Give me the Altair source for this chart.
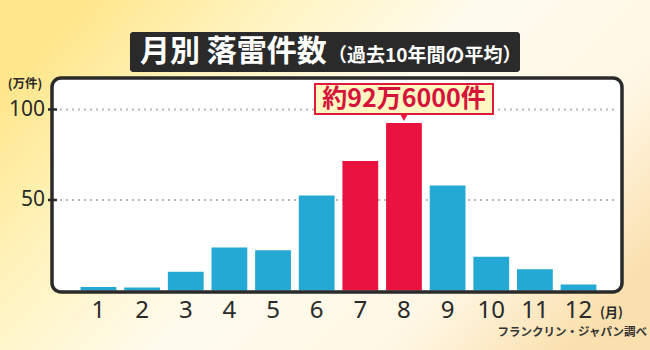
import altair as alt
import pandas as pd

# ---------------- data ----------------
months = [1, 2, 3, 4, 5, 6, 7, 8, 9, 10, 11, 12]
counts = [2.0, 1.7, 10.3, 23.7, 22.2, 52.5, 71.5, 92.6, 58.0, 18.6, 11.7, 3.3]
highlight = [False, False, False, False, False, False, True, True, False, False, False, False]
month_labels = ["1", "2", "3", "4", "5", "6", "7", "8", "9", "10", "11", "12"]
y_ticks = [50, 100]
y_tick_labels = ["50", "100"]
title_main = "月別 落雷件数"
title_sub = "（過去10年間の平均）"
unit_y = "(万件)"
unit_x = "(月)"
source_note = "フランクリン・ジャパン調べ"
peak_label = "約92万6000件"
peak_month = [8]

FONT = "Noto Sans CJK JP, Noto Sans, Roboto, sans-serif"
NUMFONT = "Noto Sans, Roboto, sans-serif"
BLUE = "#24A9D5"
RED = "#EA1340"
DARK = "#2a2a2a"

df_bars = pd.DataFrame({
    "month": months,
    "count": counts,
    "group": ["peak" if h else "normal" for h in highlight],
    "label": month_labels,
})
df_yt = pd.DataFrame({"v": y_ticks, "t": y_tick_labels})
one = pd.DataFrame({"a": [0]})

x_scale = alt.Scale(domain=months, range=[53.5, 623.5], paddingInner=0.18, paddingOuter=0.62)
y_scale = alt.Scale(domain=[0, 100], range=[290.5, 109.5], nice=False, zero=False)

X = alt.X("month:O", scale=x_scale, axis=None)

bg = alt.Chart(one).mark_rect(
    fill={
        "gradient": "linear",
        "x1": 0, "y1": 0.25, "x2": 1, "y2": 0.75,
        "stops": [
            {"offset": 0.0, "color": "#FFE68A"},
            {"offset": 0.22, "color": "#FFF3BC"},
            {"offset": 0.5, "color": "#FFFBEE"},
            {"offset": 0.78, "color": "#FFF7E4"},
            {"offset": 1.0, "color": "#FAE0AE"},
        ],
    }
).encode(x=alt.value(0), x2=alt.value(650), y=alt.value(0), y2=alt.value(350))

title_box = alt.Chart(one).mark_rect(fill=DARK, cornerRadius=3).encode(
    x=alt.value(130), x2=alt.value(520), y=alt.value(32), y2=alt.value(72)
)
title_txt = alt.Chart(one).mark_text(
    text=title_main, font=FONT, fontSize=30, fontWeight="bold", color="white",
    align="left", baseline="middle"
).encode(x=alt.value(140), y=alt.value(52))
sub_txt = alt.Chart(one).mark_text(
    text=title_sub, font=FONT, fontSize=19, fontWeight="bold", color="white",
    align="left", baseline="middle"
).encode(x=alt.value(328), y=alt.value(56))

panel = alt.Chart(one).mark_rect(fill="white", cornerRadius=9).encode(
    x=alt.value(52), x2=alt.value(622), y=alt.value(78), y2=alt.value(292)
)

grid = alt.Chart(df_yt).mark_rule(color="#b8b8b8", strokeWidth=2, strokeDash=[2, 4]).encode(
    y=alt.Y("v:Q", scale=y_scale, axis=None), x=alt.value(60), x2=alt.value(618)
)

bars = alt.Chart(df_bars).mark_bar().encode(
    x=X,
    y=alt.Y("count:Q", scale=y_scale, axis=None),
    color=alt.Color("group:N", scale=alt.Scale(domain=["normal", "peak"], range=[BLUE, RED]), legend=None),
)

panel_line = alt.Chart(one).mark_rect(
    fillOpacity=0, stroke=DARK, strokeWidth=3.5, cornerRadius=9
).encode(x=alt.value(52), x2=alt.value(622), y=alt.value(78), y2=alt.value(292))

ytick = alt.Chart(df_yt).mark_rule(color=DARK, strokeWidth=2.5).encode(
    y=alt.Y("v:Q", scale=y_scale, axis=None), x=alt.value(48), x2=alt.value(57)
)
ylab = alt.Chart(df_yt).mark_text(
    font=NUMFONT, fontSize=21, color=DARK, align="right", baseline="middle"
).encode(y=alt.Y("v:Q", scale=y_scale, axis=None), x=alt.value(45), text="t:N")

yunit = alt.Chart(one).mark_text(
    text=unit_y, font=FONT, fontSize=12.5, fontWeight="bold", color=DARK,
    align="center", baseline="middle"
).encode(x=alt.value(25), y=alt.value(84))

xlab = alt.Chart(df_bars).mark_text(
    font=NUMFONT, fontSize=24, color=DARK, align="center", baseline="middle"
).encode(x=X, y=alt.value(311), text="label:N")

xunit = alt.Chart(one).mark_text(
    text=unit_x, font=FONT, fontSize=13, fontWeight="bold", color=DARK,
    align="left", baseline="middle"
).encode(x=alt.value(600), y=alt.value(313))

src = alt.Chart(one).mark_text(
    text=source_note, font=FONT, fontSize=11.5, fontWeight="bold", color="#333333",
    align="right", baseline="middle"
).encode(x=alt.value(647), y=alt.value(333))

ann_box = alt.Chart(one).mark_rect(
    fill="#FFF6C2", stroke="#DD1C3C", strokeWidth=2
).encode(x=alt.value(315), x2=alt.value(493), y=alt.value(84), y2=alt.value(114))

ann_txt = alt.Chart(one).mark_text(
    text=peak_label, font=FONT, fontSize=25, fontWeight="bold", color="#D6133A",
    align="center", baseline="middle"
).encode(x=alt.value(404), y=alt.value(99))

tri = alt.Chart(pd.DataFrame({"month": peak_month})).mark_point(
    shape="triangle-down", filled=True, size=45, color=RED, opacity=1
).encode(x=X, y=alt.value(118))

chart = alt.layer(
    bg, title_box, title_txt, sub_txt, panel, grid, bars, panel_line,
    ytick, ylab, yunit, xlab, xunit, src, ann_box, ann_txt, tri
).properties(
    width=650, height=350, autosize=alt.AutoSizeParams(type="none"), padding=0
).configure_view(stroke=None)

chart.save("out.html", embed_options={"renderer": "svg", "actions": False})
